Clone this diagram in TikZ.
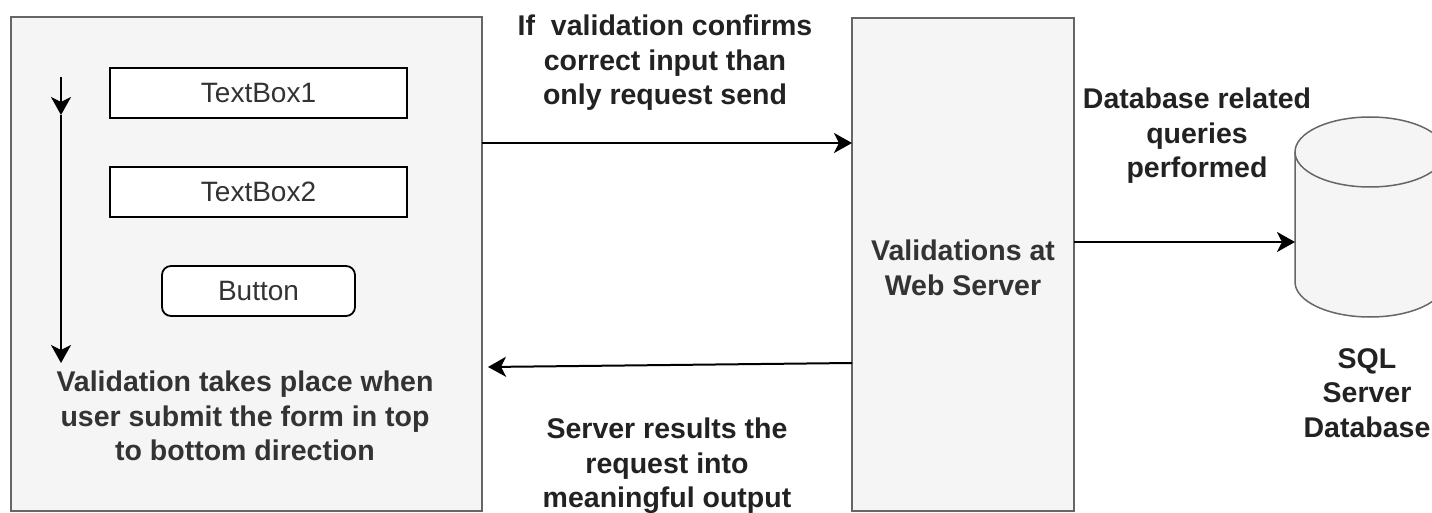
\documentclass[tikz,border=0pt]{standalone}
\usepackage{fontspec}
\setmainfont{Liberation Sans}
\usetikzlibrary{arrows.meta}
\definecolor{boxfill}{HTML}{F5F5F5}
\definecolor{boxline}{HTML}{666666}
\definecolor{txt}{HTML}{333333}
\definecolor{lbl}{HTML}{222222}
\tikzset{
  bigbox/.style={draw=boxline, fill=boxfill, line width=1.8pt},
  field/.style={draw=black, fill=white, line width=1.8pt, text=txt, font=\fontsize{28}{33}\selectfont},
  lab/.style={align=center, text=lbl, font=\fontsize{28.5}{34.5}\selectfont\bfseries, inner sep=0pt},
  boxtext/.style={align=center, text=txt, font=\fontsize{28.5}{34.5}\selectfont\bfseries, inner sep=0pt},
  arr/.style={draw=black, line width=2pt, -{Stealth[length=18pt,width=20pt,inset=5pt]}}
}
\begin{document}
\begin{tikzpicture}[x=1pt,y=1pt]
\useasboundingbox (0,0) rectangle (1432,-513);
% main boxes
\path[bigbox] (11,-17) rectangle (482,-511);
\node[inner sep=0pt, minimum width=471pt, minimum height=494pt] (form) at (246.5,-264) {};
\path[bigbox] (852,-18) rectangle (1074,-511);
\node[inner sep=0pt, minimum width=222pt, minimum height=493pt] (server) at (963,-264.5) {};
\node[boxtext] (servertxt) at (963,-268) {Validations at\\Web Server};
% form fields
\node[field, minimum width=297pt, minimum height=50pt, inner sep=0pt] (tb1) at (258.5,-93) {TextBox1};
\node[field, minimum width=297pt, minimum height=50pt, inner sep=0pt] (tb2) at (258.5,-192) {TextBox2};
\node[field, rounded corners=9pt, minimum width=193pt, minimum height=50pt, inner sep=0pt] (btn) at (258.5,-291) {Button};
% vertical arrow
\coordinate (va) at (61,-77);
\coordinate (vb) at (61,-115);
\coordinate (vc) at (61,-363);
\draw[arr] (va) -- (vb);
\draw[arr] (vb) -- (vc);
\node[lab, text=txt] (formtxt) at (245,-416) {Validation takes place when\\user submit the form in top\\to bottom direction};
% database cylinder
\path[draw=boxline, fill=boxfill, line width=1.5pt] (1295,-152) -- (1295,-282) arc (180:360:75 and 35) -- (1445,-152) arc (0:180:75 and 35) -- cycle;
\draw[boxline, line width=1.5pt] (1295,-152) arc (180:360:75 and 35);
\coordinate (db) at (1295,-242);
\node[lab] (dbtxt) at (1367,-393) {SQL\\Server\\Database};
% connectors
\coordinate (fr) at (482,-143);
\coordinate (sl) at (852,-143);
\draw[arr] (fr) -- (sl);
\coordinate (s2) at (852,-363);
\coordinate (f2) at (488,-367);
\draw[arr] (s2) -- (f2);
\coordinate (sr) at (1074,-242);
\draw[arr] (sr) -- (db);
% labels
\node[lab] (l1) at (665,-63) {If\ \ validation confirms\\correct input than\\only request send};
\node[lab] (l2) at (667,-466) {Server results the\\request into\\meaningful output};
\node[lab] (l3) at (1197,-136) {Database related\\queries\\performed};
\end{tikzpicture}
\end{document}
